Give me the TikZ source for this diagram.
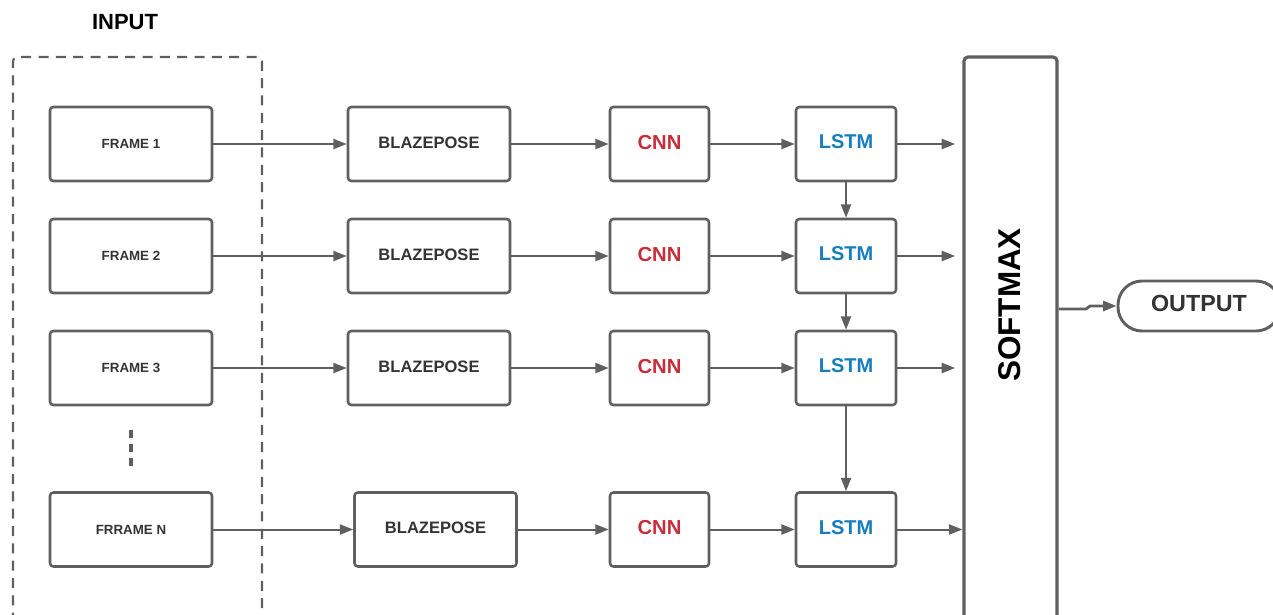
\documentclass[tikz,border=0pt]{standalone}
\usepackage{fontspec}
\setmainfont{Liberation Sans}
\usetikzlibrary{positioning,arrows.meta}

\definecolor{linegray}{RGB}{95,95,95}
\definecolor{textgray}{RGB}{51,51,51}
\definecolor{cnnred}{RGB}{201,45,57}
\definecolor{lstmblue}{RGB}{22,125,192}

\tikzset{
  blockbox/.style={draw=linegray, line width=1.9pt, rounded corners=2.5pt, fill=white,
    inner sep=0pt, minimum height=55.5pt, text=textgray},
  framebox/.style={blockbox, minimum width=121.5pt, font=\bfseries\fontsize{10}{12}\selectfont},
  posebox/.style={blockbox, minimum width=121.5pt, text depth=2pt, font=\bfseries\fontsize{12.4}{14}\selectfont},
  cnnbox/.style={blockbox, minimum width=74.25pt, text depth=3pt, text=cnnred, font=\bfseries\fontsize{15.2}{18}\selectfont},
  lstmbox/.style={blockbox, minimum width=75pt, text depth=3pt, text=lstmblue, font=\bfseries\fontsize{15}{18}\selectfont},
  flow/.style={draw=linegray, line width=1.5pt, -{Triangle[length=10pt,width=7.5pt]}}
}

\begin{document}
\begin{tikzpicture}[x=0.75pt,y=0.75pt,yscale=-1,xscale=1]
\useasboundingbox (0,0) rectangle (1273,614);

%input group (dashed)
\draw [linegray, line width=1.6pt, dash pattern=on 7.5pt off 5.5pt, rounded corners=3pt] (13,640) -- (13,57) -- (262,57) -- (262,640);
\node (inputlbl) [font=\bfseries\fontsize{16.5}{19}\selectfont, text=black] at (125,22) {INPUT};

%frames
\node (frame1) [framebox] at (131,144) {FRAME 1};
\node (frame2) [framebox] at (131,256) {FRAME 2};
\node (frame3) [framebox] at (131,368) {FRAME 3};
\node (frameN) [framebox] at (131,529.5) {FRRAME N};
\draw [linegray, line width=2.3pt, dash pattern=on 6pt off 4.5pt] (131,430) -- (131,466);

%blazepose
\node (pose1) [posebox] at (429,144) {BLAZEPOSE};
\node (pose2) [posebox] at (429,256) {BLAZEPOSE};
\node (pose3) [posebox] at (429,368) {BLAZEPOSE};
\node (poseN) [posebox] at (435.5,529.5) {BLAZEPOSE};

%cnn
\node (cnn1) [cnnbox] at (659.5,144) {CNN};
\node (cnn2) [cnnbox] at (659.5,256) {CNN};
\node (cnn3) [cnnbox] at (659.5,368) {CNN};
\node (cnnN) [cnnbox] at (659.5,529.5) {CNN};

%lstm
\node (lstm1) [lstmbox] at (846,144) {LSTM};
\node (lstm2) [lstmbox] at (846,256) {LSTM};
\node (lstm3) [lstmbox] at (846,368) {LSTM};
\node (lstmN) [lstmbox] at (846,529.5) {LSTM};

%softmax and output
\node (softmax) [draw=linegray, line width=2.4pt, rounded corners=3pt, inner sep=0pt,
  minimum width=69.75pt, minimum height=437.25pt] at (1010.5,348.5) {};
\node (softlbl) [rotate=90, font=\bfseries\fontsize{23.6}{28}\selectfont, text=black] at (1010,305) {SOFTMAX};
\node (output) [draw=linegray, line width=2.2pt, rounded corners=18pt, inner sep=0pt,
  minimum width=121.5pt, minimum height=37.5pt, text depth=4pt, text=textgray,
  font=\bfseries\fontsize{17.5}{21}\selectfont] at (1199,306) {OUTPUT};

%connectors
\foreach \r in {1,2,3,N}{
  \draw [flow] (frame\r) -- (pose\r);
  \draw [flow] (pose\r) -- (cnn\r);
  \draw [flow] (cnn\r) -- (lstm\r);
}
\foreach \r in {1,2,3}
  \draw [flow, shorten >=5.5pt] (lstm\r.east) -- (softmax.west |- lstm\r.east);
\draw [flow] (lstmN.east) -- (softmax.west |- lstmN.east);
\draw [flow] (lstm1) -- (lstm2);
\draw [flow] (lstm2) -- (lstm3);
\draw [flow] (lstm3) -- (lstmN);
\draw [flow, line width=2.1pt] (softmax.east |- 0,309) -- (1086,309) -- (1090,306) -- (output.west);
\end{tikzpicture}
\end{document}
